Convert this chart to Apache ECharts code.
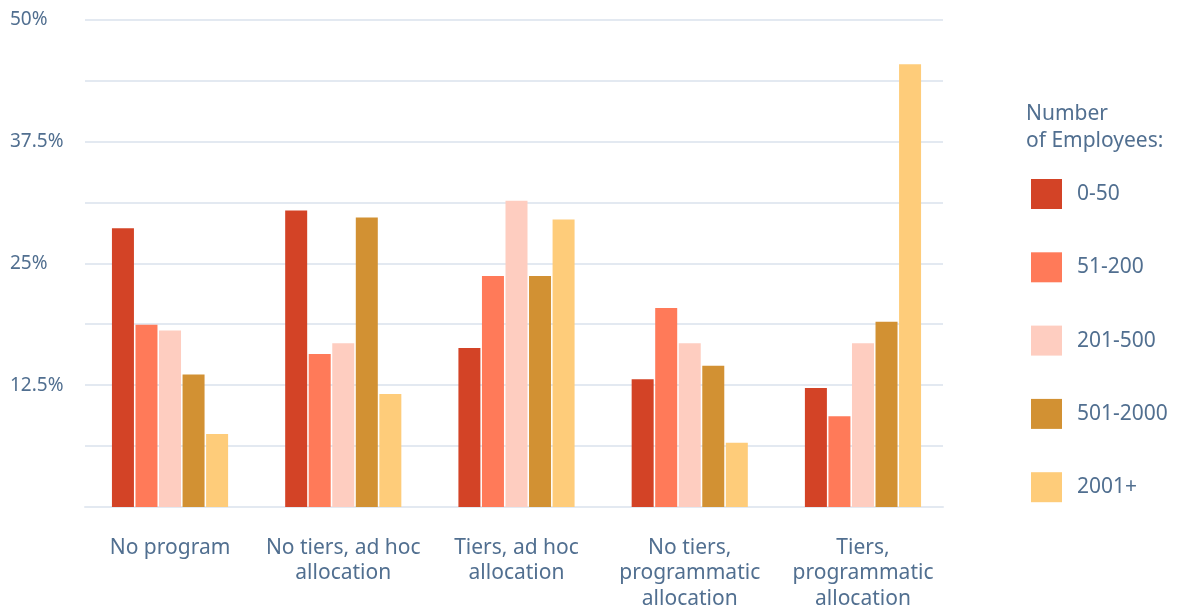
<!DOCTYPE html>
<html>
<head>
<meta charset="utf-8">
<script src="https://cdn.jsdelivr.net/npm/echarts@6/dist/echarts.min.js"></script>
<style>
  html, body { margin: 0; padding: 0; background: #ffffff; }
  #chart { width: 1178px; height: 607px; }
</style>
</head>
<body>
<div id="chart"></div>
<script>
// Allocation approach, share of companies by size band (%)
const categories = [
  'No program',
  'No tiers, ad hoc\nallocation',
  'Tiers, ad hoc\nallocation',
  'No tiers,\nprogrammatic\nallocation',
  'Tiers,\nprogrammatic\nallocation'
];
const sizeBands = ['0-50', '51-200', '201-500', '501-2000', '2001+'];
const values0to50     = [28.6, 30.4, 16.3, 13.1, 12.2];
const values51to200   = [18.7, 15.7, 23.7, 20.4, 9.3];
const values201to500  = [18.1, 16.8, 31.4, 16.8, 16.8];
const values501to2000 = [13.6, 29.7, 23.7, 14.5, 19.0];
const values2001plus  = [7.5, 11.6, 29.5, 6.6, 45.4];
const yTickLabels = ['12.5%', '25%', '37.5%', '50%'];

const seriesValues = [values0to50, values51to200, values201to500, values501to2000, values2001plus];
const colors = ['#d34326', '#ff7a59', '#fecdc0', '#d29133', '#fecc7a'];
const textColor = '#516f90';
const lineColor = '#e3e9f1';
const fontFamily = '"Noto Sans", "Open Sans", sans-serif';

const chart = echarts.init(document.getElementById('chart'), null, { renderer: 'canvas' });

const yRange = { type: 'value', min: 0, max: 50, interval: 6.25 };

chart.setOption({
  animation: false,
  backgroundColor: '#ffffff',
  textStyle: { fontFamily: fontFamily, color: textColor },
  // grid 0 holds the bars and category labels, grid 1 the value scale and guide lines
  grid: [
    { left: 83.4, right: 228.4, top: 19.5, bottom: 100, containLabel: false, outerBoundsMode: 'none' },
    { left: 85, right: 235, top: 19.5, bottom: 100, containLabel: false, outerBoundsMode: 'none' }
  ],
  title: {
    text: 'Number\nof Employees:',
    left: 1026,
    top: 101,
    padding: 0,
    textStyle: { fontFamily: fontFamily, fontSize: 21, fontWeight: 'normal', color: textColor, lineHeight: 27 }
  },
  legend: {
    orient: 'vertical',
    left: 1031,
    top: 179,
    padding: 0,
    itemWidth: 31,
    itemHeight: 30,
    itemGap: 43.3,
    icon: 'rect',
    data: sizeBands,
    textStyle: { fontFamily: fontFamily, fontSize: 21, color: textColor, padding: [0, 0, 0, 10] }
  },
  xAxis: [
    {
      type: 'category',
      gridIndex: 0,
      data: categories,
      axisLine: { show: false },
      axisTick: { show: false },
      axisLabel: {
        interval: 0,
        margin: 28,
        fontSize: 21,
        lineHeight: 25.5,
        color: textColor,
        fontFamily: fontFamily
      }
    },
    {
      type: 'category',
      gridIndex: 1,
      data: categories,
      axisLine: { show: true, lineStyle: { color: lineColor, width: 2 } },
      axisTick: { show: false },
      axisLabel: { show: false }
    }
  ],
  yAxis: [
    Object.assign({}, yRange, {
      gridIndex: 0,
      axisLine: { show: false },
      axisTick: { show: false },
      splitLine: { show: false },
      axisLabel: { show: false }
    }),
    Object.assign({}, yRange, {
      gridIndex: 1,
      axisLine: { show: false },
      axisTick: { show: false },
      splitLine: { lineStyle: { color: lineColor, width: 2 } },
      axisLabel: {
        align: 'left',
        margin: 75,
        fontSize: 19,
        color: textColor,
        fontFamily: fontFamily,
        formatter: function (v) {
          const idx = Math.round(v / 12.5) - 1;
          if (v > 0 && Math.abs(v % 12.5) < 1e-6 && idx >= 0) return yTickLabels[idx];
          return '';
        }
      }
    })
  ],
  series: sizeBands.map(function (name, i) {
    return {
      name: name,
      type: 'bar',
      xAxisIndex: 0,
      yAxisIndex: 0,
      data: seriesValues[i],
      barWidth: 22,
      barGap: '7%',
      z: 3,
      itemStyle: { color: colors[i] },
      emphasis: { disabled: true }
    };
  })
});
</script>
</body>
</html>
